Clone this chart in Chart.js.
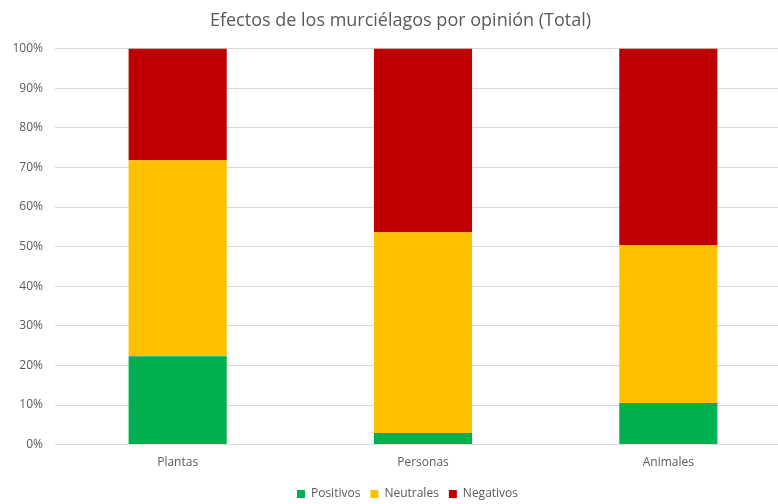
<!DOCTYPE html>
<html>
<head>
<meta charset="utf-8">
<script src="https://cdn.jsdelivr.net/npm/chart.js@4"></script>
<style>
  html, body { margin: 0; padding: 0; background: #ffffff; overflow: hidden; }
  #wrap { width: 800px; height: 504px; }
</style>
</head>
<body>
<div id="wrap"><canvas id="chart" width="800" height="504"></canvas></div>
<script>
// Categories and the share (%) of each opinion per category
const categories = ['Plantas', 'Personas', 'Animales'];
const positivos = [22.3, 2.9, 10.5];
const neutrales = [49.5, 50.7, 39.9];
const negativos = [28.2, 46.4, 49.6];
const yTicks = [0, 10, 20, 30, 40, 50, 60, 70, 80, 90, 100];

const FONT = "'Open Sans', 'Liberation Sans', sans-serif";
const TEXT = '#595959';

const ds = (label, data, color) => ({
  label, data, backgroundColor: color, borderWidth: 0,
  barPercentage: 0.4, categoryPercentage: 1.0
});

// Nudge the title and legend boxes after layout
const nudge = {
  id: 'nudge',
  afterLayout(chart) {
    const t = chart.titleBlock, l = chart.legend;
    if (t) { t.left += 5; t.right += 5; }
    if (l) { l.left += 12; l.right += 12; l.top += 5; l.bottom += 5; }
  }
};

new Chart(document.getElementById('chart'), {
  type: 'bar',
  data: {
    labels: categories,
    datasets: [
      ds('Positivos', positivos, '#00B050'),
      ds('Neutrales', neutrales, '#FFC000'),
      ds('Negativos', negativos, '#C00000')
    ]
  },
  plugins: [nudge],
  options: {
    responsive: false,
    animation: false,
    devicePixelRatio: 1,
    layout: { padding: { left: 0, right: 9, top: 10, bottom: -1 } },
    plugins: {
      title: {
        display: true,
        text: 'Efectos de los murciélagos por opinión (Total)',
        color: TEXT,
        font: { family: FONT, size: 18, weight: 'normal' },
        padding: { top: 0, bottom: 17 }
      },
      legend: {
        position: 'bottom',
        labels: {
          color: TEXT,
          font: { family: FONT, size: 12 },
          boxWidth: 8, boxHeight: 8,
          padding: 10
        }
      },
      tooltip: { enabled: false }
    },
    scales: {
      x: {
        stacked: true,
        grid: { display: false },
        border: { color: '#D9D9D9' },
        ticks: { color: TEXT, font: { family: FONT, size: 12 }, padding: 3 }
      },
      y: {
        stacked: true,
        min: 0, max: 100,
        afterBuildTicks: (s) => { s.ticks = yTicks.map(v => ({ value: v })); },
        afterFit: (s) => { s.width = 55; },
        grid: { color: '#D9D9D9', drawTicks: false },
        border: { display: false },
        ticks: {
          color: TEXT, font: { family: FONT, size: 12 }, padding: 12,
          callback: (v) => v + '%'
        }
      }
    }
  }
});
</script>
</body>
</html>
